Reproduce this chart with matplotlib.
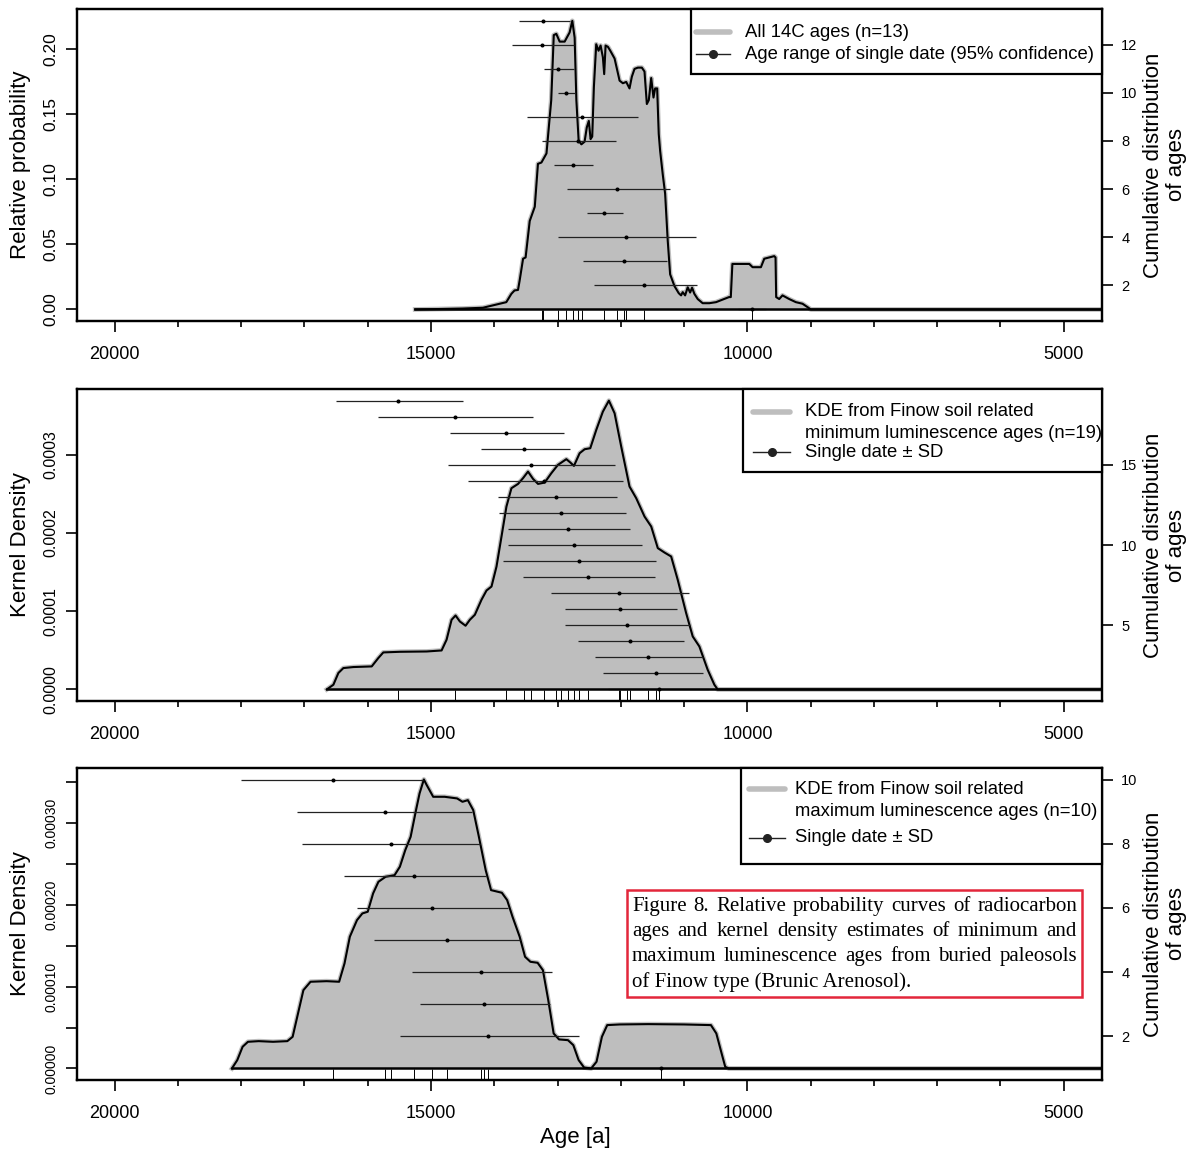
import matplotlib
matplotlib.use('Agg')
import matplotlib.pyplot as plt
from matplotlib.patches import Rectangle
import numpy as np

plt.rcParams['font.family'] = ['Liberation Sans', 'DejaVu Sans']

# ---- panel 1: summed 14C probability ----
c14_age = [15250, 14900, 14500, 14180, 13965, 13810, 13730, 13680, 13625, 13600,
           13545, 13505, 13440, 13360, 13310, 13255, 13175, 13100, 13060, 13020,
           12967, 12888, 12810, 12767, 12730, 12703, 12667, 12624, 12573, 12538,
           12506, 12478, 12452, 12426, 12389, 12352, 12320, 12284, 12263, 12241,
           12204, 12167, 12099, 12020, 11968, 11915, 11863, 11826, 11784, 11731,
           11668, 11626, 11589, 11558, 11520, 11484, 11458, 11426, 11401, 11379,
           11338, 11300, 11259, 11221, 11153, 11085, 11048, 11022, 10984, 10943,
           10905, 10874, 10838, 10785, 10707, 10601, 10495, 10290, 10262, 10237,
           10180, 9970, 9918, 9786, 9733, 9576, 9555, 9545, 9497, 9445,
           9339, 9234, 9129, 9050, 8997, 4400]
c14_prob = [0.0, 0.0003, 0.0007, 0.0013, 0.0038, 0.0056, 0.012, 0.0146, 0.015, 0.022,
            0.039, 0.040, 0.068, 0.079, 0.112, 0.113, 0.120, 0.161, 0.211, 0.212,
            0.206, 0.206, 0.213, 0.222, 0.209, 0.161, 0.130, 0.127, 0.129, 0.140,
            0.145, 0.131, 0.133, 0.171, 0.204, 0.199, 0.203, 0.194, 0.181, 0.203,
            0.202, 0.199, 0.193, 0.176, 0.174, 0.175, 0.170, 0.179, 0.185, 0.186,
            0.186, 0.183, 0.158, 0.161, 0.178, 0.163, 0.170, 0.170, 0.135, 0.122,
            0.104, 0.089, 0.053, 0.027, 0.018, 0.0125, 0.0108, 0.0133, 0.0108, 0.017,
            0.013, 0.0167, 0.012, 0.008, 0.0048, 0.0048, 0.0056, 0.0095, 0.0095, 0.035,
            0.035, 0.035, 0.0325, 0.0325, 0.039, 0.041, 0.040, 0.0095, 0.008, 0.0108,
            0.008, 0.0056, 0.0044, 0.0018, 0.0, 0.0]
# single dates, bottom to top (cumulative rank 1..13)
c14_date = [9925, 11626, 11948, 11916, 12268, 12057, 12762, 12678, 12615, 12868, 12987, 13240, 13230]
c14_lo = [10150, 12426, 12593, 12995, 12538, 12845, 13057, 13248, 13483, 12998, 13220, 13720, 13610]
c14_hi = [9700, 10796, 11270, 10811, 11962, 11227, 12435, 12084, 11722, 12719, 12736, 12745, 12810]

# ---- panel 2: KDE minimum luminescence ages ----
min_age = [16647, 16543, 16464, 16385, 16227, 15937, 15833, 15754, 15490, 15069,
           14833, 14754, 14675, 14612, 14544, 14454, 14386, 14307, 14202, 14123,
           14044, 13965, 13886, 13808, 13729, 13624, 13546, 13467, 13388, 13309,
           13203, 13098, 12994, 12861, 12798, 12741, 12651, 12572, 12483, 12388,
           12284, 12189, 12099, 11994, 11863, 11757, 11626, 11520, 11416, 11311,
           11205, 11101, 10968, 10864, 10759, 10628, 10522, 10470, 4400]
min_dens = [0.0, 0.6e-5, 2.1e-5, 2.73e-5, 2.86e-5, 2.94e-5, 4.01e-5, 4.73e-5, 4.81e-5, 4.85e-5,
            4.98e-5, 6.35e-5, 8.9e-5, 9.45e-5, 8.68e-5, 8.14e-5, 8.9e-5, 9.54e-5, 11.46e-5, 12.64e-5,
            13.15e-5, 15.7e-5, 19.54e-5, 23.37e-5, 25.72e-5, 26.27e-5, 27.0e-5, 27.84e-5, 26.91e-5, 26.27e-5,
            26.44e-5, 27.64e-5, 28.7e-5, 29.43e-5, 29.0e-5, 28.57e-5, 30.19e-5, 30.7e-5, 30.83e-5, 33.17e-5,
            35.5e-5, 36.91e-5, 35.3e-5, 31.03e-5, 25.93e-5, 24.44e-5, 22.1e-5, 20.82e-5, 18.06e-5, 17.5e-5,
            16.99e-5, 14.01e-5, 9.76e-5, 6.77e-5, 5.49e-5, 2.52e-5, 0.6e-5, 0.0, 0.0]
min_date = [11400, 11437, 11568, 11852, 11905, 12014, 12025, 12515, 12663, 12741,
            12830, 12941, 13026, 13215, 13420, 13524, 13819, 14628, 15517]
min_lo = [12200, 12284, 12415, 12683, 12888, 12883, 13098, 13540, 13855, 13776,
          13776, 13925, 13947, 14413, 14724, 14208, 14702, 15833, 16505]
min_hi = [10600, 10708, 10708, 10995, 10906, 11111, 10916, 11458, 11437, 11673,
          11852, 11926, 12063, 11973, 12088, 12799, 12899, 13388, 14497]

# ---- panel 3: KDE maximum luminescence ages ----
max_age = [18147, 18062, 17978, 17893, 17723, 17497, 17271, 17187, 17102, 17017,
           16904, 16650, 16452, 16367, 16283, 16170, 16085, 16000, 15915, 15831,
           15718, 15576, 15492, 15407, 15322, 15237, 15181, 15113, 15068, 14966,
           14785, 14588, 14503, 14418, 14333, 14249, 14136, 14051, 13881, 13797,
           13712, 13599, 13514, 13429, 13316, 13232, 13147, 13062, 12977, 12836,
           12751, 12667, 12582, 12469, 12384, 12299, 12215, 12017, 11565, 11000,
           10576, 10491, 10407, 10350, 10294, 4400]
max_dens = [0.0, 1.02e-5, 2.65e-5, 3.26e-5, 3.34e-5, 3.26e-5, 3.34e-5, 3.87e-5, 6.72e-5, 9.57e-5,
            10.6e-5, 10.67e-5, 10.6e-5, 12.84e-5, 16.1e-5, 18.13e-5, 18.95e-5, 19.16e-5, 21.4e-5, 22.82e-5,
            23.43e-5, 23.63e-5, 24.66e-5, 26.69e-5, 28.32e-5, 31.58e-5, 33.62e-5, 35.33e-5, 34.64e-5, 33.21e-5,
            33.21e-5, 33.01e-5, 32.6e-5, 32.8e-5, 31.58e-5, 28.52e-5, 24.24e-5, 21.8e-5, 21.48e-5, 20.58e-5,
            18.54e-5, 16.1e-5, 13.65e-5, 13.04e-5, 12.92e-5, 12.02e-5, 8.35e-5, 4.28e-5, 3.55e-5, 3.46e-5,
            2.85e-5, 1.02e-5, 0.12e-5, 0.0, 0.82e-5, 3.87e-5, 5.3e-5, 5.38e-5, 5.42e-5, 5.38e-5,
            5.3e-5, 4.28e-5, 1.83e-5, 0.2e-5, 0.0, 0.0]
max_date = [11367, 14096, 14164, 14209, 14740, 14977, 15266, 15627, 15735, 16548]
max_lo = [12400, 15486, 15181, 15294, 15904, 16170, 16373, 17034, 17119, 18006]
max_hi = [10330, 12661, 13119, 13090, 13588, 13791, 14136, 14220, 14345, 15124]

x_major = [20000, 15000, 10000, 5000]
x_minor = [19000, 18000, 17000, 16000, 14000, 13000, 12000, 11000, 9000, 8000, 7000, 6000]

W, H = 1192, 1149
fig = plt.figure(figsize=(W / 100, H / 100), dpi=100)
GREY = '#bebebe'
AX_L, AX_R = 76.7, 1101.7


def fx(x):
    return x / W


def fy(y):
    return 1 - y / H


def panel(top, bottom, age, dens, date, lo, hi, ylim, yticks, ylabels, yfs,
          ylabel, cumlim, cumticks):
    ax = fig.add_axes([fx(AX_L), fy(bottom), (AX_R - AX_L) / W, (bottom - top) / H])
    ax.fill_between(age, dens, 0, color=GREY, lw=0)
    ax.plot(age, dens, color=GREY, lw=3.4, solid_joinstyle='round')
    ax.plot(age, dens, color='black', lw=1.5, solid_joinstyle='round')
    ax.vlines(date, 0, 0.035, transform=ax.get_xaxis_transform(), color='black', lw=0.7)
    ax.set_xlim(20600, 4400)
    ax.set_ylim(*ylim)
    ax.set_xticks(x_major)
    ax.set_xticklabels([str(v) for v in x_major])
    ax.set_xticks(x_minor, minor=True)
    ax.tick_params(axis='x', which='major', length=8, width=1.2, pad=10, labelsize=13)
    ax.tick_params(axis='x', which='minor', length=4.3, width=1.2)
    ax.set_yticks(yticks)
    ax.set_yticklabels(ylabels)
    ax.tick_params(axis='y', length=8, width=1.2, pad=5, labelsize=yfs)
    for t in ax.get_yticklabels():
        t.set_rotation(90)
        t.set_va('center')
    for s in ax.spines.values():
        s.set_linewidth(1.6)

    ax2 = ax.twinx()
    pos = np.arange(1, len(date) + 1)
    ax2.hlines(pos, lo, hi, color='#222222', lw=0.9)
    ax2.plot(date, pos, 'o', color='black', ms=1.9)
    # zero line of the density drawn above the date bars (hides rank 1)
    ax2.plot(age, np.zeros(len(age)), color='black', lw=1.8, transform=ax.transData)
    ax2.set_ylim(*cumlim)
    ax2.set_yticks(cumticks)
    ax2.tick_params(axis='y', length=8, width=1.2, pad=6, labelsize=10.5)
    for s in ax2.spines.values():
        s.set_linewidth(1.6)

    mid = (top + bottom) / 2
    fig.text(fx(21), fy(mid), ylabel, rotation=90, ha='center', va='center', fontsize=16)
    fig.text(fx(1165), fy(mid), 'Cumulative distribution\nof ages', rotation=90,
             ha='center', va='center', multialignment='center', fontsize=16, linespacing=1.15)
    return ax2


def legend(ax, top, bottom, box_l, box_b, grey_y, black_y, s0, s1, sdot, tx, texts):
    h = bottom - top

    def ax_x(x):
        return (x - AX_L) / (AX_R - AX_L)

    def ax_y(y):
        return (bottom - y) / h

    ax.add_patch(Rectangle((ax_x(box_l), ax_y(box_b)), 1 - ax_x(box_l), 1 - ax_y(box_b),
                           transform=ax.transAxes, facecolor='white', edgecolor='black',
                           lw=1.6, zorder=5, clip_on=False))
    ax.plot([ax_x(s0), ax_x(s1)], [ax_y(grey_y)] * 2, transform=ax.transAxes,
            color=GREY, lw=4, solid_capstyle='round', zorder=6)
    ax.plot([ax_x(s0), ax_x(s1)], [ax_y(black_y)] * 2, transform=ax.transAxes,
            color='#222222', lw=1.0, zorder=6)
    ax.plot([ax_x(sdot)], [ax_y(black_y)], 'o', transform=ax.transAxes,
            color='#222222', ms=5.5, zorder=6)
    for txt, y in texts:
        ax.text(ax_x(tx), ax_y(y), txt, transform=ax.transAxes, ha='left', va='center',
                fontsize=13.3, zorder=7)


a1 = panel(9, 321, c14_age, c14_prob, c14_date, c14_lo, c14_hi,
           (-0.00889, 0.2311), [0, 0.05, 0.10, 0.15, 0.20],
           ['0.00', '0.05', '0.10', '0.15', '0.20'], 12.5,
           'Relative probability', (0.52, 13.48), [2, 4, 6, 8, 10, 12])
legend(a1, 9, 321, 691, 74, 32, 54, 696, 730, 713, 745,
       [('All 14C ages (n=13)', 32), ('Age range of single date (95% confidence)', 54)])

a2 = panel(389, 701, min_age, min_dens, min_date, min_lo, min_hi,
           (-0.0000148, 0.000384), [0, 0.0001, 0.0002, 0.0003],
           ['0.0000', '0.0001', '0.0002', '0.0003'], 11.5,
           'Kernel Density', (0.28, 19.72), [5, 10, 15])
legend(a2, 389, 701, 743, 472, 412, 452, 753, 790, 772, 805,
       [('KDE from Finow soil related', 411), ('minimum luminescence ages (n=19)', 433),
        ('Single date \u00b1 SD', 452)])

a3 = panel(768, 1080, max_age, max_dens, max_date, max_lo, max_hi,
           (-0.0000141, 0.0003673), [0, 0.00005, 0.0001, 0.00015, 0.0002, 0.00025, 0.0003, 0.00035],
           ['0.00000', '', '0.00010', '', '0.00020', '', '0.00030', ''], 10,
           'Kernel Density', (0.64, 10.36), [2, 4, 6, 8, 10])
legend(a3, 768, 1080, 741, 864, 789, 838, 749, 785, 767, 795,
       [('KDE from Finow soil related', 789), ('maximum luminescence ages (n=10)', 811),
        ('Single date \u00b1 SD', 838)])

fig.text(fx(575), fy(1137), 'Age [a]', ha='center', va='center', fontsize=16)

# caption box
fig.add_artist(Rectangle((fx(627), fy(997)), (1082 - 627) / W, (997 - 890) / H,
                         transform=fig.transFigure, facecolor='white',
                         edgecolor='#e3263b', lw=1.8, zorder=10))
caption = ['Figure 8. Relative probability curves of radiocarbon',
           'ages and kernel density estimates of minimum and',
           'maximum luminescence ages from buried paleosols',
           'of Finow type (Brunic Arenosol).']
baselines = [911, 936, 961, 987]
cap_fs = 15
renderer = fig.canvas.get_renderer()
for i, (line, by) in enumerate(zip(caption, baselines)):
    if i == len(caption) - 1:
        fig.text(fx(632), fy(by), line, ha='left', va='baseline', fontsize=cap_fs,
                 family='Liberation Serif', zorder=11)
        continue
    words = line.split()
    widths = []
    for w in words:
        t = fig.text(0, 0, w, fontsize=cap_fs, family='Liberation Serif')
        widths.append(t.get_window_extent(renderer).width)
        t.remove()
    gap = max((1077 - 632 - sum(widths)) / (len(words) - 1), 2)
    x = 632
    for w, wd in zip(words, widths):
        fig.text(fx(x), fy(by), w, ha='left', va='baseline', fontsize=cap_fs,
                 family='Liberation Serif', zorder=11)
        x += wd + gap

fig.savefig('out.png', dpi=100)
